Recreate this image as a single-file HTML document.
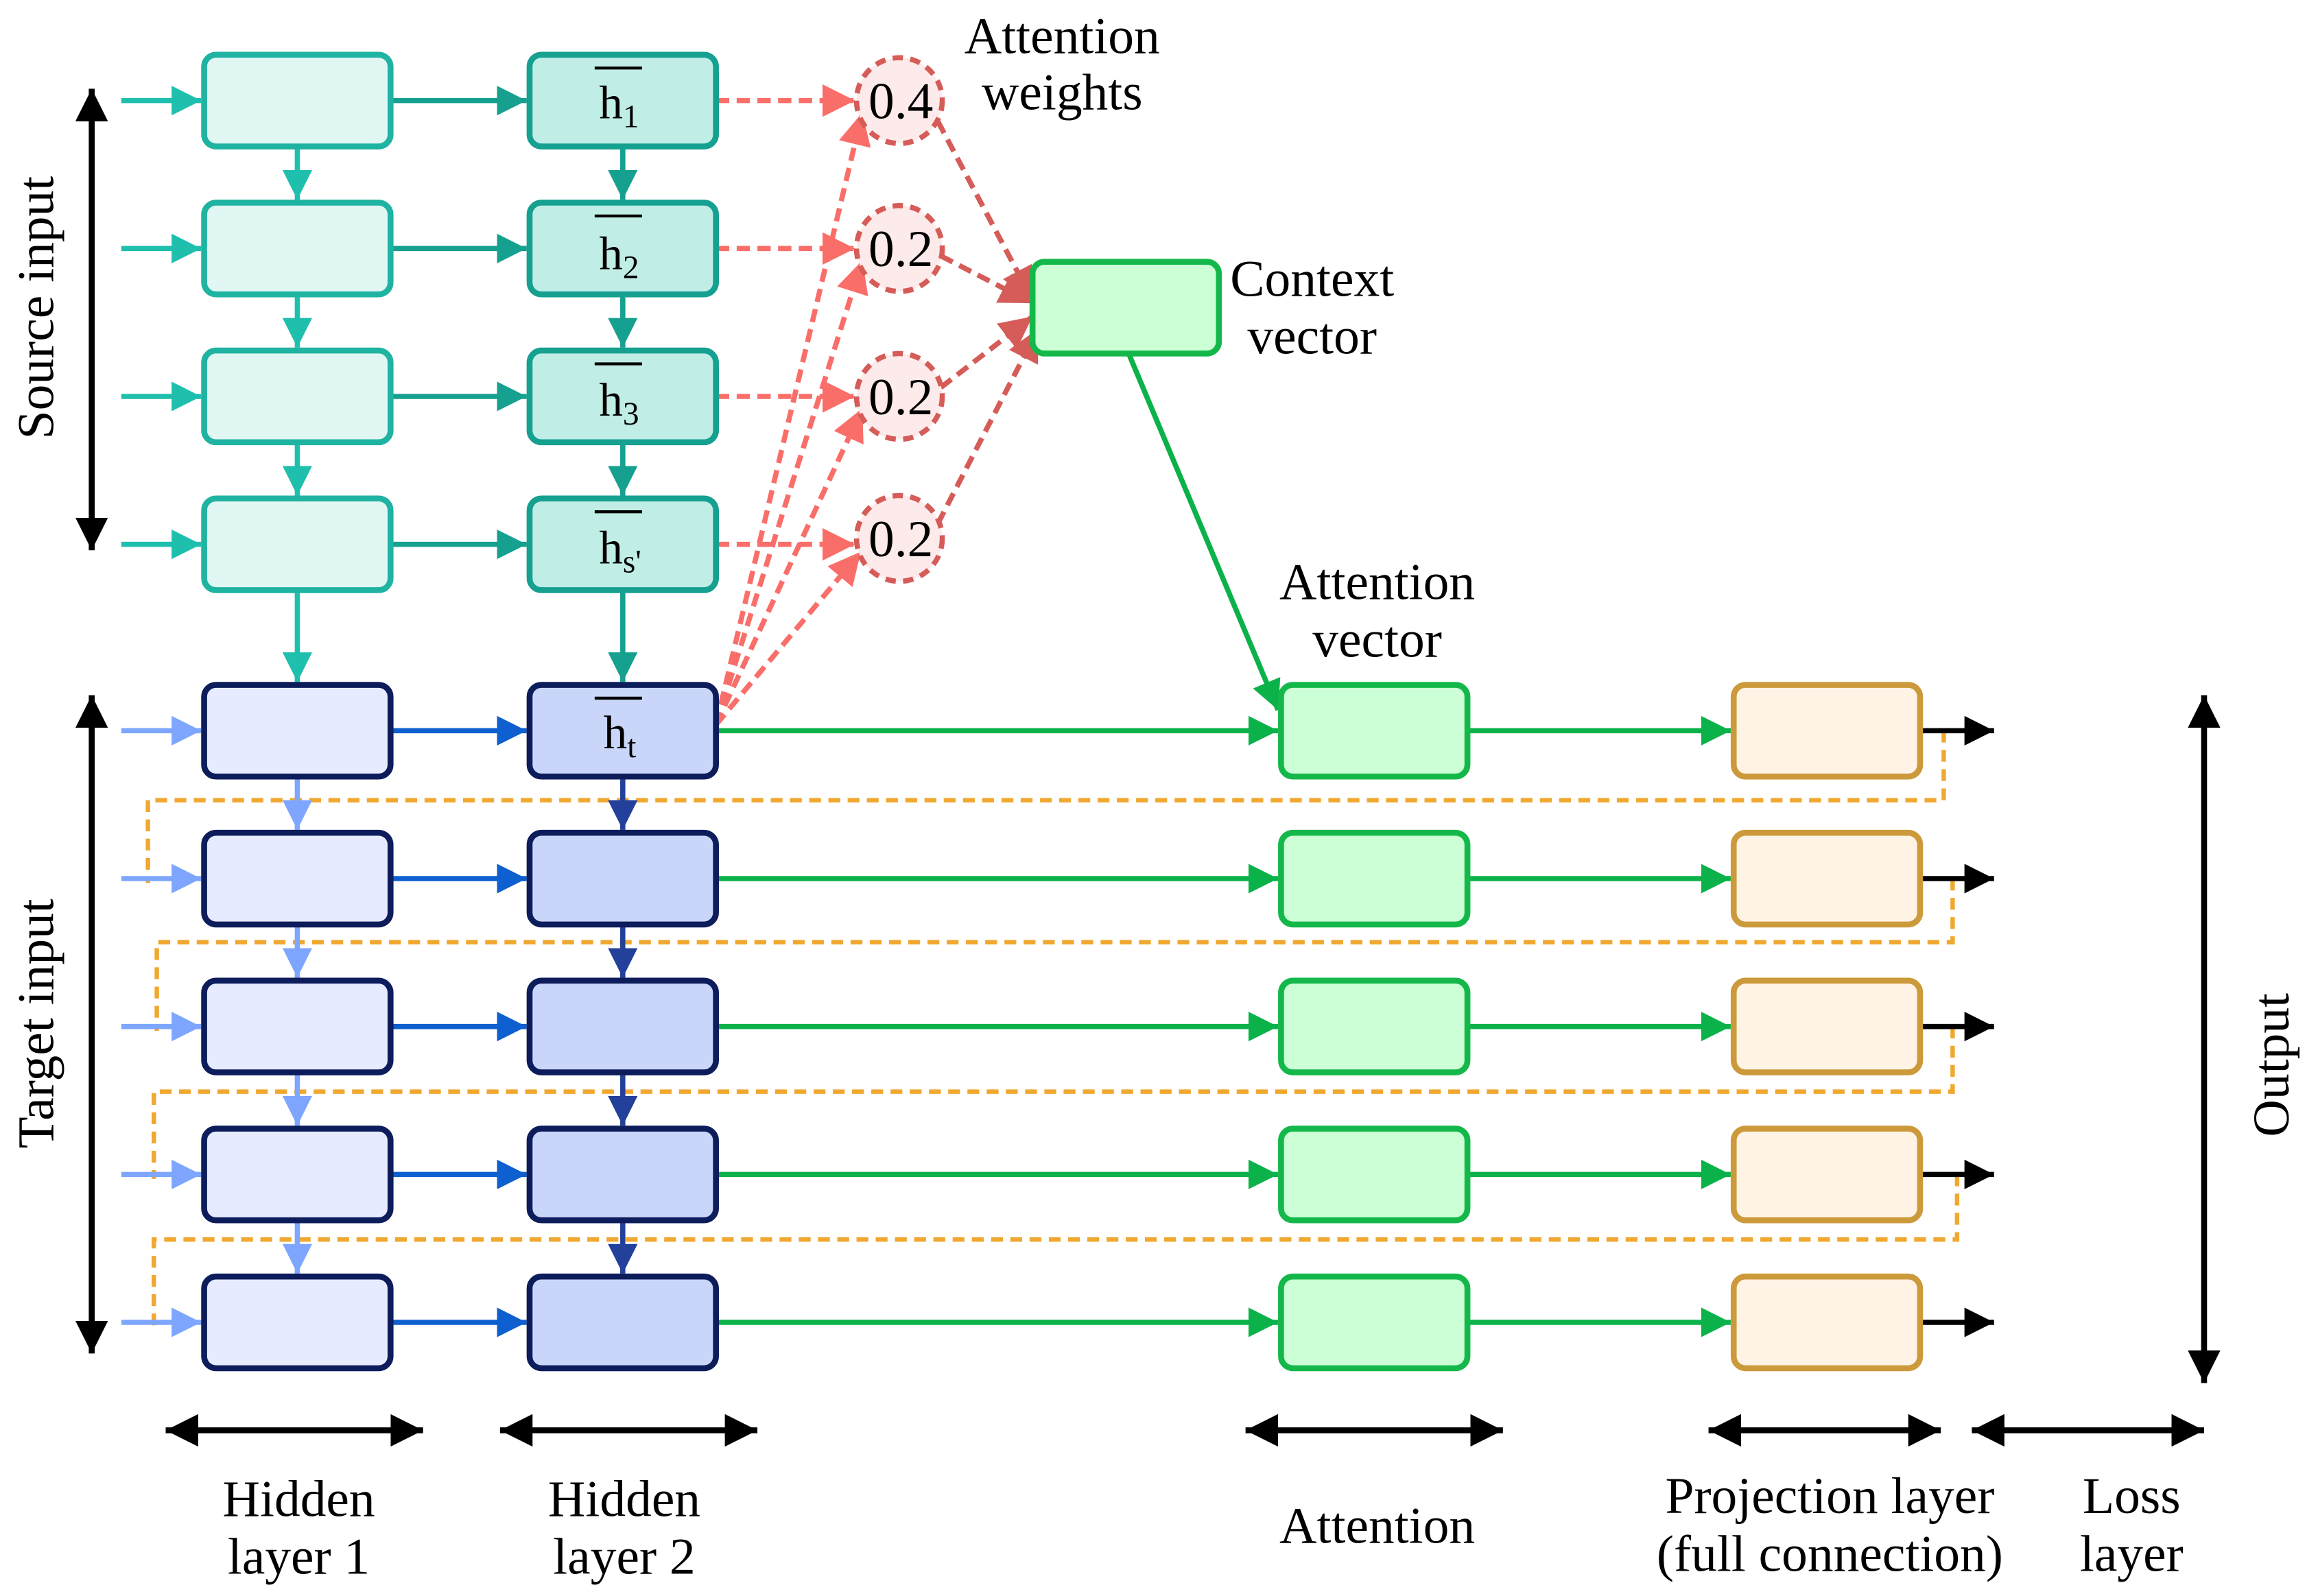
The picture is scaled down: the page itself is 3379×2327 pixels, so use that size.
<!DOCTYPE html>
<html><head><meta charset="utf-8"><style>html,body{margin:0;padding:0;background:#fff}svg{display:block}</style></head>
<body>
<svg xmlns="http://www.w3.org/2000/svg" width="3379" height="2327" viewBox="0 0 1567 1079" preserveAspectRatio="none" font-family="Liberation Serif, serif">
<defs>
<marker id="mt" markerUnits="userSpaceOnUse" markerWidth="22" markerHeight="20" refX="20" refY="10" orient="auto"><path d="M0,0 L20,10 L0,20 z" fill="#1fbfae"/></marker>
<marker id="mdt" markerUnits="userSpaceOnUse" markerWidth="22" markerHeight="20" refX="20" refY="10" orient="auto"><path d="M0,0 L20,10 L0,20 z" fill="#16a08f"/></marker>
<marker id="mlb" markerUnits="userSpaceOnUse" markerWidth="22" markerHeight="20" refX="20" refY="10" orient="auto"><path d="M0,0 L20,10 L0,20 z" fill="#7ea6ff"/></marker>
<marker id="mb" markerUnits="userSpaceOnUse" markerWidth="22" markerHeight="20" refX="20" refY="10" orient="auto"><path d="M0,0 L20,10 L0,20 z" fill="#0e5fcf"/></marker>
<marker id="mnv" markerUnits="userSpaceOnUse" markerWidth="22" markerHeight="20" refX="20" refY="10" orient="auto"><path d="M0,0 L20,10 L0,20 z" fill="#23409a"/></marker>
<marker id="mg" markerUnits="userSpaceOnUse" markerWidth="22" markerHeight="20" refX="20" refY="10" orient="auto"><path d="M0,0 L20,10 L0,20 z" fill="#0bb24a"/></marker>
<marker id="mk" markerUnits="userSpaceOnUse" markerWidth="22" markerHeight="20" refX="20" refY="10" orient="auto"><path d="M0,0 L20,10 L0,20 z" fill="#000"/></marker>
<marker id="mr" markerUnits="userSpaceOnUse" markerWidth="24" markerHeight="22" refX="22" refY="11" orient="auto"><path d="M0,0 L22,11 L0,22 z" fill="#fa6e6a"/></marker>
<marker id="mdr" markerUnits="userSpaceOnUse" markerWidth="24" markerHeight="22" refX="22" refY="11" orient="auto"><path d="M0,0 L22,11 L0,22 z" fill="#d55c58"/></marker>
<marker id="ka" markerUnits="userSpaceOnUse" markerWidth="24" markerHeight="22" refX="22" refY="11" orient="auto-start-reverse"><path d="M0,0 L22,11 L0,22 z" fill="#000"/></marker>
</defs>

<g fill="none" stroke="#fa6e6a" stroke-width="3.5" stroke-dasharray="9,5">
<line x1="484" y1="68" x2="578" y2="68" marker-end="url(#mr)"/>
<line x1="484" y1="168" x2="578" y2="168" marker-end="url(#mr)"/>
<line x1="484" y1="268" x2="578" y2="268" marker-end="url(#mr)"/>
<line x1="484" y1="368" x2="578" y2="368" marker-end="url(#mr)"/>
<line x1="484" y1="490" x2="583" y2="76" marker-end="url(#mr)"/>
<line x1="484" y1="490" x2="583" y2="176" marker-end="url(#mr)"/>
<line x1="484" y1="490" x2="583" y2="276" marker-end="url(#mr)"/>
<line x1="484" y1="490" x2="582" y2="373" marker-end="url(#mr)"/>
</g>
<g fill="none" stroke="#d55c58" stroke-width="3.5" stroke-dasharray="9,5">
<line x1="634" y1="82" x2="698" y2="203" marker-end="url(#mdr)"/>
<line x1="636" y1="173" x2="698" y2="205" marker-end="url(#mdr)"/>
<line x1="636" y1="262" x2="698" y2="214" marker-end="url(#mdr)"/>
<line x1="634" y1="354" x2="702" y2="222" marker-end="url(#mdr)"/>
</g>
<g fill="#fdeaea" stroke="#d55c58" stroke-width="3.5" stroke-dasharray="7,5">
<circle cx="608" cy="68" r="29"/><circle cx="608" cy="168" r="29"/><circle cx="608" cy="268" r="29"/><circle cx="608" cy="364" r="29"/>
</g>
<g font-size="35" text-anchor="middle" fill="#000">
<text x="609" y="80">0.4</text><text x="609" y="180">0.2</text><text x="609" y="280">0.2</text><text x="609" y="376">0.2</text>
</g>

<g stroke="#1fbfae" stroke-width="3.5">
<line x1="82" y1="68" x2="136" y2="68" marker-end="url(#mt)"/>
<line x1="82" y1="168" x2="136" y2="168" marker-end="url(#mt)"/>
<line x1="82" y1="268" x2="136" y2="268" marker-end="url(#mt)"/>
<line x1="82" y1="368" x2="136" y2="368" marker-end="url(#mt)"/>
<line x1="201" y1="99" x2="201" y2="135" marker-end="url(#mt)"/>
<line x1="201" y1="199" x2="201" y2="235" marker-end="url(#mt)"/>
<line x1="201" y1="299" x2="201" y2="335" marker-end="url(#mt)"/>
<line x1="201" y1="399" x2="201" y2="461" marker-end="url(#mt)"/>
</g>
<g stroke="#16a08f" stroke-width="3.5">
<line x1="264" y1="68" x2="356" y2="68" marker-end="url(#mdt)"/>
<line x1="264" y1="168" x2="356" y2="168" marker-end="url(#mdt)"/>
<line x1="264" y1="268" x2="356" y2="268" marker-end="url(#mdt)"/>
<line x1="264" y1="368" x2="356" y2="368" marker-end="url(#mdt)"/>
<line x1="421" y1="99" x2="421" y2="135" marker-end="url(#mdt)"/>
<line x1="421" y1="199" x2="421" y2="235" marker-end="url(#mdt)"/>
<line x1="421" y1="299" x2="421" y2="335" marker-end="url(#mdt)"/>
<line x1="421" y1="399" x2="421" y2="461" marker-end="url(#mdt)"/>
</g>

<g fill="none" stroke="#f0a830" stroke-width="3" stroke-dasharray="8,5">
<polyline points="1314,494 1314,541 100,541 100,597"/>
<polyline points="1320,594 1320,637 106,637 106,697"/>
<polyline points="1320,694 1320,738 104,738 104,797"/>
<polyline points="1323,794 1323,838 104,838 104,897"/>
</g>

<g stroke="#7ea6ff" stroke-width="3.5">
<line x1="82" y1="494" x2="136" y2="494" marker-end="url(#mlb)"/>
<line x1="82" y1="594" x2="136" y2="594" marker-end="url(#mlb)"/>
<line x1="82" y1="694" x2="136" y2="694" marker-end="url(#mlb)"/>
<line x1="82" y1="794" x2="136" y2="794" marker-end="url(#mlb)"/>
<line x1="82" y1="894" x2="136" y2="894" marker-end="url(#mlb)"/>
<line x1="201" y1="525" x2="201" y2="561" marker-end="url(#mlb)"/>
<line x1="201" y1="625" x2="201" y2="661" marker-end="url(#mlb)"/>
<line x1="201" y1="725" x2="201" y2="761" marker-end="url(#mlb)"/>
<line x1="201" y1="825" x2="201" y2="861" marker-end="url(#mlb)"/>
</g>
<g stroke="#0e5fcf" stroke-width="3.5">
<line x1="264" y1="494" x2="356" y2="494" marker-end="url(#mb)"/>
<line x1="264" y1="594" x2="356" y2="594" marker-end="url(#mb)"/>
<line x1="264" y1="694" x2="356" y2="694" marker-end="url(#mb)"/>
<line x1="264" y1="794" x2="356" y2="794" marker-end="url(#mb)"/>
<line x1="264" y1="894" x2="356" y2="894" marker-end="url(#mb)"/>
</g>
<g stroke="#23409a" stroke-width="3.5">
<line x1="421" y1="525" x2="421" y2="561" marker-end="url(#mnv)"/>
<line x1="421" y1="625" x2="421" y2="661" marker-end="url(#mnv)"/>
<line x1="421" y1="725" x2="421" y2="761" marker-end="url(#mnv)"/>
<line x1="421" y1="825" x2="421" y2="861" marker-end="url(#mnv)"/>
</g>
<g stroke="#0bb24a" stroke-width="3.5">
<line x1="484" y1="494" x2="864" y2="494" marker-end="url(#mg)"/>
<line x1="484" y1="594" x2="864" y2="594" marker-end="url(#mg)"/>
<line x1="484" y1="694" x2="864" y2="694" marker-end="url(#mg)"/>
<line x1="484" y1="794" x2="864" y2="794" marker-end="url(#mg)"/>
<line x1="484" y1="894" x2="864" y2="894" marker-end="url(#mg)"/>
<line x1="992" y1="494" x2="1170" y2="494" marker-end="url(#mg)"/>
<line x1="992" y1="594" x2="1170" y2="594" marker-end="url(#mg)"/>
<line x1="992" y1="694" x2="1170" y2="694" marker-end="url(#mg)"/>
<line x1="992" y1="794" x2="1170" y2="794" marker-end="url(#mg)"/>
<line x1="992" y1="894" x2="1170" y2="894" marker-end="url(#mg)"/>
<line x1="763" y1="239" x2="864" y2="480" marker-end="url(#mg)"/>
</g>
<g stroke="#000" stroke-width="3.5">
<line x1="1298" y1="494" x2="1348" y2="494" marker-end="url(#mk)"/>
<line x1="1298" y1="594" x2="1348" y2="594" marker-end="url(#mk)"/>
<line x1="1298" y1="694" x2="1348" y2="694" marker-end="url(#mk)"/>
<line x1="1298" y1="794" x2="1348" y2="794" marker-end="url(#mk)"/>
<line x1="1298" y1="894" x2="1348" y2="894" marker-end="url(#mk)"/>
</g>

<g stroke-width="4">
<g fill="#e1f7f3" stroke="#1fb3a2">
<rect x="138" y="37" width="126" height="62" rx="8"/><rect x="138" y="137" width="126" height="62" rx="8"/>
<rect x="138" y="237" width="126" height="62" rx="8"/><rect x="138" y="337" width="126" height="62" rx="8"/>
</g>
<g fill="#c0eee6" stroke="#15a090">
<rect x="358" y="37" width="126" height="62" rx="8"/><rect x="358" y="137" width="126" height="62" rx="8"/>
<rect x="358" y="237" width="126" height="62" rx="8"/><rect x="358" y="337" width="126" height="62" rx="8"/>
</g>
<g fill="#e6ebff" stroke="#0d1c5a">
<rect x="138" y="463" width="126" height="62" rx="8"/><rect x="138" y="563" width="126" height="62" rx="8"/>
<rect x="138" y="663" width="126" height="62" rx="8"/><rect x="138" y="763" width="126" height="62" rx="8"/>
<rect x="138" y="863" width="126" height="62" rx="8"/>
</g>
<g fill="#c9d6fa" stroke="#0d1c5a">
<rect x="358" y="463" width="126" height="62" rx="8"/><rect x="358" y="563" width="126" height="62" rx="8"/>
<rect x="358" y="663" width="126" height="62" rx="8"/><rect x="358" y="763" width="126" height="62" rx="8"/>
<rect x="358" y="863" width="126" height="62" rx="8"/>
</g>
<g fill="#ccffd6" stroke="#14b84a">
<rect x="698" y="177" width="126" height="62" rx="8"/>
<rect x="866" y="463" width="126" height="62" rx="8"/><rect x="866" y="563" width="126" height="62" rx="8"/>
<rect x="866" y="663" width="126" height="62" rx="8"/><rect x="866" y="763" width="126" height="62" rx="8"/>
<rect x="866" y="863" width="126" height="62" rx="8"/>
</g>
<g fill="#fff3e6" stroke="#cc9a3a">
<rect x="1172" y="463" width="126" height="62" rx="8"/><rect x="1172" y="563" width="126" height="62" rx="8"/>
<rect x="1172" y="663" width="126" height="62" rx="8"/><rect x="1172" y="763" width="126" height="62" rx="8"/>
<rect x="1172" y="863" width="126" height="62" rx="8"/>
</g>
</g>

<g font-size="32" fill="#000">
<text x="405" y="80">h<tspan font-size="22" dy="6">1</tspan></text>
<text x="405" y="182">h<tspan font-size="22" dy="6">2</tspan></text>
<text x="405" y="281">h<tspan font-size="22" dy="6">3</tspan></text>
<text x="405" y="381">h<tspan font-size="22" dy="6">s'</tspan></text>
<text x="408" y="506">h<tspan font-size="22" dy="6">t</tspan></text>
</g>
<g stroke="#000" stroke-width="2">
<line x1="402" y1="46" x2="434" y2="46"/><line x1="402" y1="146" x2="434" y2="146"/>
<line x1="402" y1="246" x2="434" y2="246"/><line x1="402" y1="346" x2="434" y2="346"/>
<line x1="402" y1="472" x2="434" y2="472"/>
</g>

<g stroke="#000" stroke-width="4">
<line x1="62" y1="60" x2="62" y2="372" marker-start="url(#ka)" marker-end="url(#ka)"/>
<line x1="62" y1="470" x2="62" y2="915" marker-start="url(#ka)" marker-end="url(#ka)"/>
<line x1="1490" y1="470" x2="1490" y2="935" marker-start="url(#ka)" marker-end="url(#ka)"/>
<line x1="112" y1="967" x2="286" y2="967" marker-start="url(#ka)" marker-end="url(#ka)"/>
<line x1="338" y1="967" x2="512" y2="967" marker-start="url(#ka)" marker-end="url(#ka)"/>
<line x1="842" y1="967" x2="1016" y2="967" marker-start="url(#ka)" marker-end="url(#ka)"/>
<line x1="1155" y1="967" x2="1312" y2="967" marker-start="url(#ka)" marker-end="url(#ka)"/>
<line x1="1333" y1="967" x2="1490" y2="967" marker-start="url(#ka)" marker-end="url(#ka)"/>
</g>

<g font-size="35" fill="#000" text-anchor="middle">
<text x="718" y="36">Attention</text><text x="718" y="74">weights</text>
<text x="887" y="200">Context</text><text x="887" y="239">vector</text>
<text x="931" y="405">Attention</text><text x="931" y="444">vector</text>
<text x="202" y="1025">Hidden</text><text x="202" y="1064">layer 1</text>
<text x="422" y="1025">Hidden</text><text x="422" y="1064">layer 2</text>
<text x="931" y="1043">Attention</text>
<text x="1237" y="1023">Projection layer</text><text x="1237" y="1062">(full connection)</text>
<text x="1441" y="1023">Loss</text><text x="1441" y="1062">layer</text>
<text transform="translate(36,208) rotate(-90)">Source input</text>
<text transform="translate(36,692) rotate(-90)">Target input</text>
<text transform="translate(1547,720) rotate(-90)">Output</text>
</g>
</svg>
</body></html>
